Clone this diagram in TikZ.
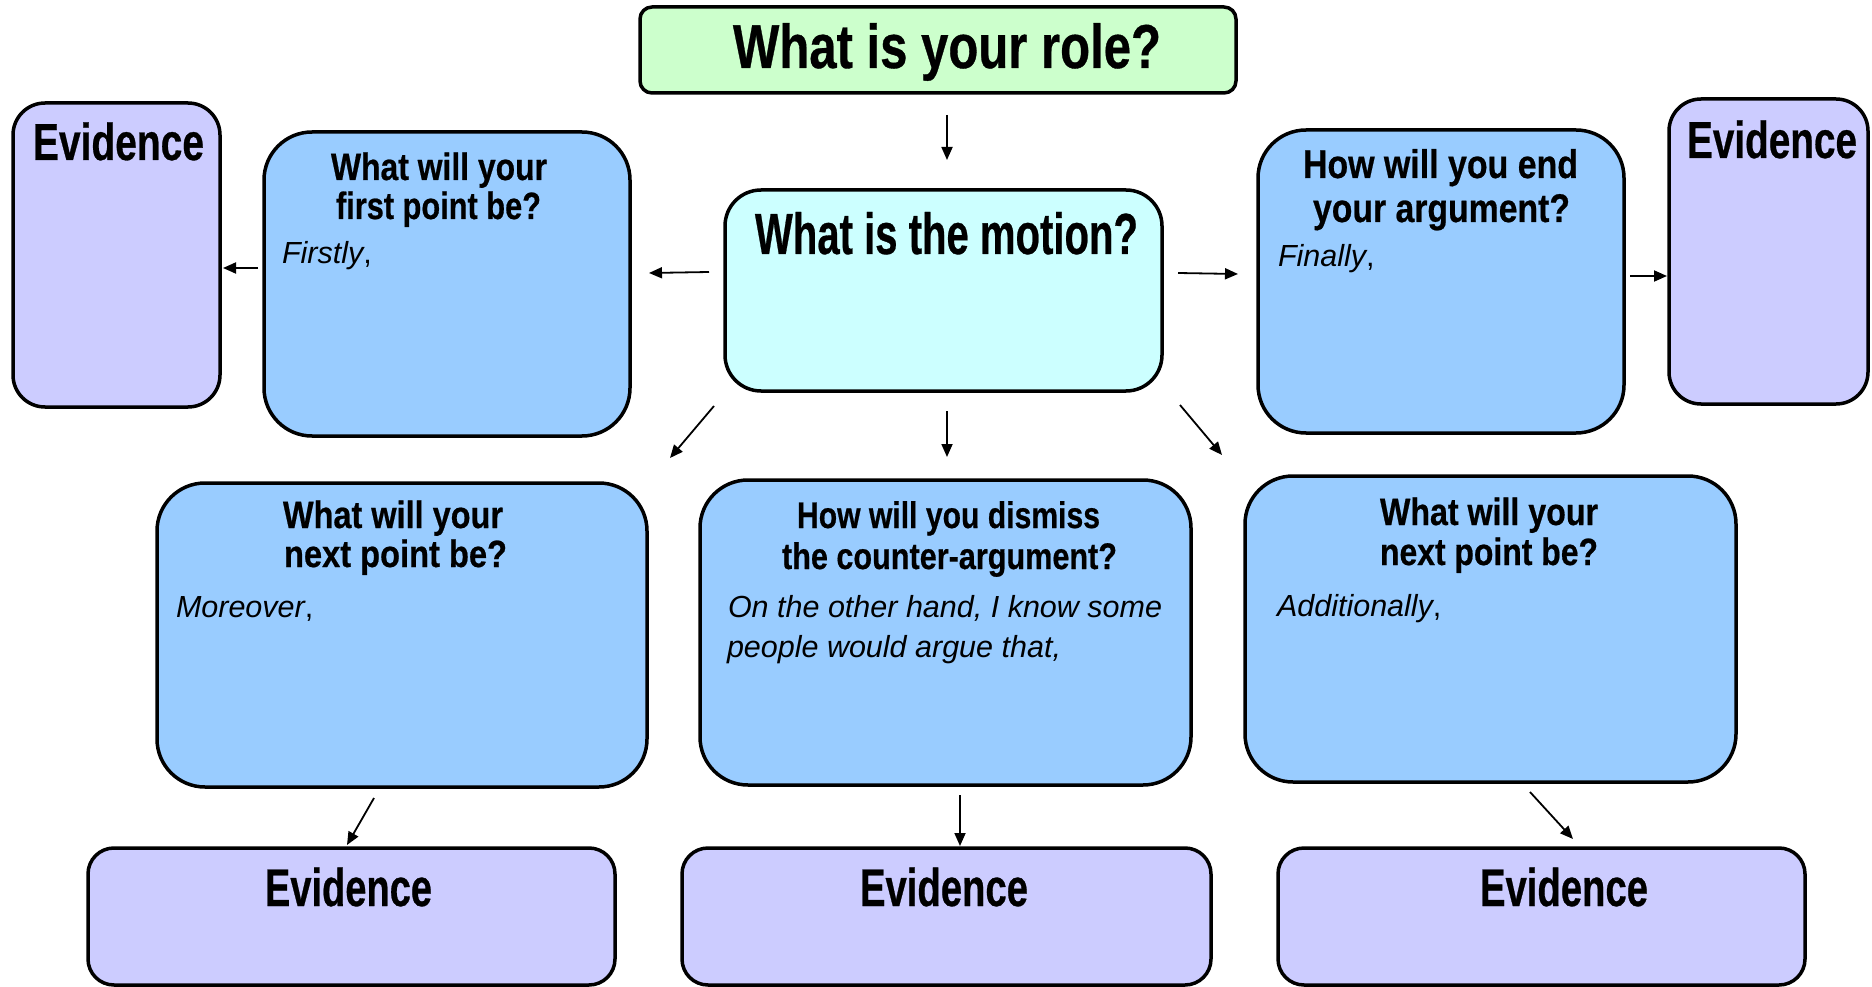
\documentclass[tikz,border=0pt]{standalone}
\usepackage{fontspec}
\setmainfont{Liberation Sans}
\newfontface\hdfont{Liberation Sans Bold}[FakeBold=0.6]
\usetikzlibrary{arrows.meta}
\definecolor{cgreen}{HTML}{CCFFCC}
\definecolor{ccyan}{HTML}{CCFFFF}
\definecolor{clav}{HTML}{CCCCFF}
\definecolor{cblue}{HTML}{99CCFF}
\newcommand\hd[3]{\resizebox{#1pt}{\height}{\fontsize{#2pt}{#2pt}\hdfont #3}}
\newcommand\itx[1]{\fontsize{30.5pt}{30.5pt}\selectfont{\itshape #1}}
\tikzset{
  boxbase/.style={draw=black, line width=3.5pt, inner sep=0pt, outer sep=0pt},
  titlebox/.style={boxbase, fill=cgreen, rounded corners=12pt},
  motionbox/.style={boxbase, fill=ccyan, rounded corners=36pt},
  pointbox/.style={boxbase, fill=cblue, rounded corners=48pt},
  evbox/.style={boxbase, fill=clav, rounded corners=32pt},
  evlow/.style={boxbase, fill=clav, rounded corners=26pt},
  txt/.style={anchor=base west, inner sep=0pt, outer sep=0pt},
  arr/.style={line width=1.8pt, -{Triangle[length=13pt,width=11pt]}}
}
\begin{document}
\begin{tikzpicture}[x=1pt,y=-1pt]
\useasboundingbox (0,0) rectangle (1872,987);
% boxes
\node[titlebox, minimum width=596pt, minimum height=86pt] (role) at (938,50) {};
\node[motionbox, minimum width=437pt, minimum height=201pt] (motion) at (943.5,290.5) {};
\node[evbox, minimum width=207pt, minimum height=304pt] (evL) at (116.5,255) {};
\node[pointbox, minimum width=366pt, minimum height=304pt] (first) at (447,284) {};
\node[pointbox, minimum width=366pt, minimum height=303pt] (last) at (1441,281.5) {};
\node[evbox, minimum width=199pt, minimum height=305pt] (evR) at (1768.5,251.5) {};
\node[pointbox, minimum width=490pt, minimum height=304pt] (next) at (402,635) {};
\node[pointbox, minimum width=491pt, minimum height=305pt] (counter) at (945.5,632.5) {};
\node[pointbox, minimum width=491pt, minimum height=306pt] (next2) at (1490.5,629) {};
\node[evlow, minimum width=527pt, minimum height=137pt] (evB1) at (351.5,916.5) {};
\node[evlow, minimum width=529pt, minimum height=137pt] (evB2) at (946.5,916.5) {};
\node[evlow, minimum width=527pt, minimum height=137pt] (evB3) at (1541.5,916.5) {};
% texts
\node[txt] (trole) at (733,68) {\hd{428}{62}{What is your role?}};
\node[txt] (tmot) at (755,254) {\hd{383}{58}{What is the motion?}};
\node[txt] (tevL) at (33,160) {\hd{171}{52}{Evidence}};
\node[txt] (tevR) at (1687,158) {\hd{170}{52}{Evidence}};
\node[txt] (tfa) at (331,180) {\hd{216}{38}{What will your}};
\node[txt] (tfb) at (336,219) {\hd{205}{38}{first point be?}};
\node[txt] (tfc) at (282,264) {\itx{Firstly},};
\node[txt] (tla) at (1303,178) {\hd{275}{40}{How will you end}};
\node[txt] (tlb) at (1313,222) {\hd{257}{40}{your argument?}};
\node[txt] (tlc) at (1278,266) {\itx{Finally},};
\node[txt] (tna) at (283,528) {\hd{220}{38}{What will your}};
\node[txt] (tnb) at (284,567) {\hd{223}{38}{next point be?}};
\node[txt] (tnc) at (176,617) {\itx{Moreover},};
\node[txt] (tca) at (797,528) {\hd{303}{37}{How will you dismiss}};
\node[txt] (tcb) at (782,569) {\hd{335}{37}{the counter-argument?}};
\node[txt] (tcc) at (728,617) {\itx{On the other hand, I know some}};
\node[txt] (tcd) at (727,657) {\itx{people would argue that,}};
\node[txt] (tma) at (1380,525) {\hd{218}{38}{What will your}};
\node[txt] (tmb) at (1380,565) {\hd{218}{38}{next point be?}};
\node[txt] (tmc) at (1277,616) {\itx{Additionally},};
\node[txt] (tb1) at (265,906) {\hd{167}{53}{Evidence}};
\node[txt] (tb2) at (860,906) {\hd{168}{53}{Evidence}};
\node[txt] (tb3) at (1480,906) {\hd{168}{53}{Evidence}};
% arrow end points
\coordinate (a1s) at (947,115); \coordinate (a1e) at (947,160);
\coordinate (a2s) at (709,272); \coordinate (a2e) at (649,273);
\coordinate (a3s) at (258,268); \coordinate (a3e) at (223,268);
\coordinate (a4s) at (1178,273); \coordinate (a4e) at (1238,274);
\coordinate (a5s) at (1630,276); \coordinate (a5e) at (1667,276);
\coordinate (a6s) at (947,411); \coordinate (a6e) at (947,457);
\coordinate (a7s) at (714,406); \coordinate (a7e) at (670,458);
\coordinate (a8s) at (1180,405); \coordinate (a8e) at (1222,455);
\coordinate (a9s) at (374,798); \coordinate (a9e) at (347,845);
\coordinate (a10s) at (960,795); \coordinate (a10e) at (960,846);
\coordinate (a11s) at (1530,792); \coordinate (a11e) at (1573,839);
\draw[arr] (a1s) -- (a1e);
\draw[arr] (a2s) -- (a2e);
\draw[arr] (a3s) -- (a3e);
\draw[arr] (a4s) -- (a4e);
\draw[arr] (a5s) -- (a5e);
\draw[arr] (a6s) -- (a6e);
\draw[arr] (a7s) -- (a7e);
\draw[arr] (a8s) -- (a8e);
\draw[arr] (a9s) -- (a9e);
\draw[arr] (a10s) -- (a10e);
\draw[arr] (a11s) -- (a11e);
\end{tikzpicture}
\end{document}
